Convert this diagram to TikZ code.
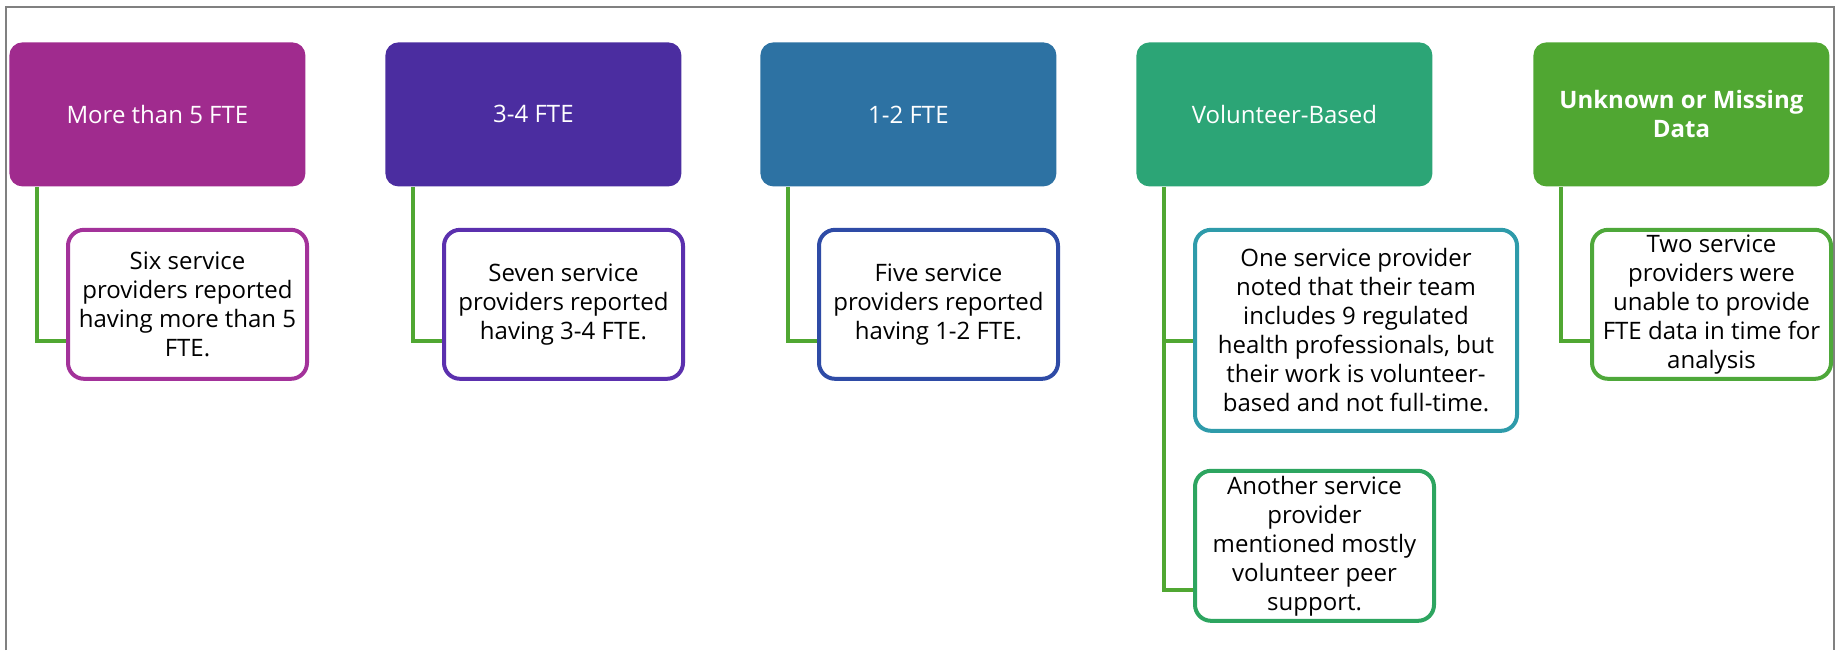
\documentclass[tikz,border=0pt]{standalone}
\usepackage{fontspec}
\setmainfont{Open Sans}
\usetikzlibrary{positioning}
\definecolor{headA}{HTML}{A02B8E}
\definecolor{headB}{HTML}{4B2DA0}
\definecolor{headC}{HTML}{2D72A3}
\definecolor{headD}{HTML}{2CA576}
\definecolor{headE}{HTML}{50A732}
\definecolor{leafA}{HTML}{A3329A}
\definecolor{leafB}{HTML}{5B30AE}
\definecolor{leafC}{HTML}{2E4BA6}
\definecolor{leafD}{HTML}{2E9BAA}
\definecolor{leafDD}{HTML}{2DA560}
\definecolor{leafE}{HTML}{4EA83A}
\colorlet{linkGreen}{headE}
\colorlet{frameGray}{black!50}

\begin{document}
\begin{tikzpicture}[
  x=0.5pt, y=-0.5pt,
  every node/.style={
    font=\fontsize{12}{14.5}\selectfont,
    align=center,
    inner sep=0pt,
  },
  head/.style={
    anchor=north west,
    rounded corners=6.5pt,
    text=white,
    minimum width=148pt,
    minimum height=72pt,
  },
  leaf/.style={
    anchor=north west,
    draw,
    line width=2pt,
    rounded corners=8pt,
    fill=white,
    minimum width=119.5pt,
    minimum height=74.5pt,
  },
  link/.style={
    draw=linkGreen,
    line width=2pt,
  }
]
\useasboundingbox (0,0) rectangle (1840,650);
\draw[frameGray, line width=1pt] (6,650) |- (1834,7) -- (1834,650);
% top row
\foreach \k/\x/\c/\t in {1/9/headA/{More than 5 FTE},
                         2/385/headB/{3-4 FTE},
                         3/760/headC/{1-2 FTE},
                         4/1136/headD/{Volunteer-Based},
                         5/1533/headE/{\bfseries Unknown or Missing\\\bfseries Data}} {
  \node[head,fill=\c] (h\k) at (\x,42) {\t};
}
% second row
\foreach \k/\c/\t in {1/leafA/{Six service\\providers reported\\having more than 5\\FTE.},
                      2/leafB/{Seven service\\providers reported\\having 3-4 FTE.},
                      3/leafC/{Five service\\providers reported\\having 1-2 FTE.},
                      5/leafE/{Two service\\providers were\\unable to provide\\FTE data in time for\\analysis}} {
  \node[leaf,draw=\c] (c\k) at ([xshift=28.5pt,yshift=-20.5pt]h\k.south west) {\t};
  \draw[link] ([xshift=14pt]h\k.south west) |- ([yshift=-56.5pt]c\k.north west);
}
\node[leaf,draw=leafD,minimum width=161pt,minimum height=100.5pt] (c4)
  at ([xshift=28.5pt,yshift=-20.5pt]h4.south west)
  {One service provider\\noted that their team\\includes 9 regulated\\health professionals, but\\their work is volunteer-\\based and not full-time.};
\node[leaf,draw=leafDD,minimum height=75pt,below=18pt of c4.south west,anchor=north west] (d4)
  {Another service\\provider\\mentioned mostly\\volunteer peer\\support.};
\draw[link] ([xshift=14pt]h4.south west) |- ([yshift=-60.5pt]d4.north west);
\draw[link] ([xshift=14pt]h4.south west |- c4.north west) ++(0,-56.5pt) -- ([yshift=-56.5pt]c4.north west);
\end{tikzpicture}
\end{document}
